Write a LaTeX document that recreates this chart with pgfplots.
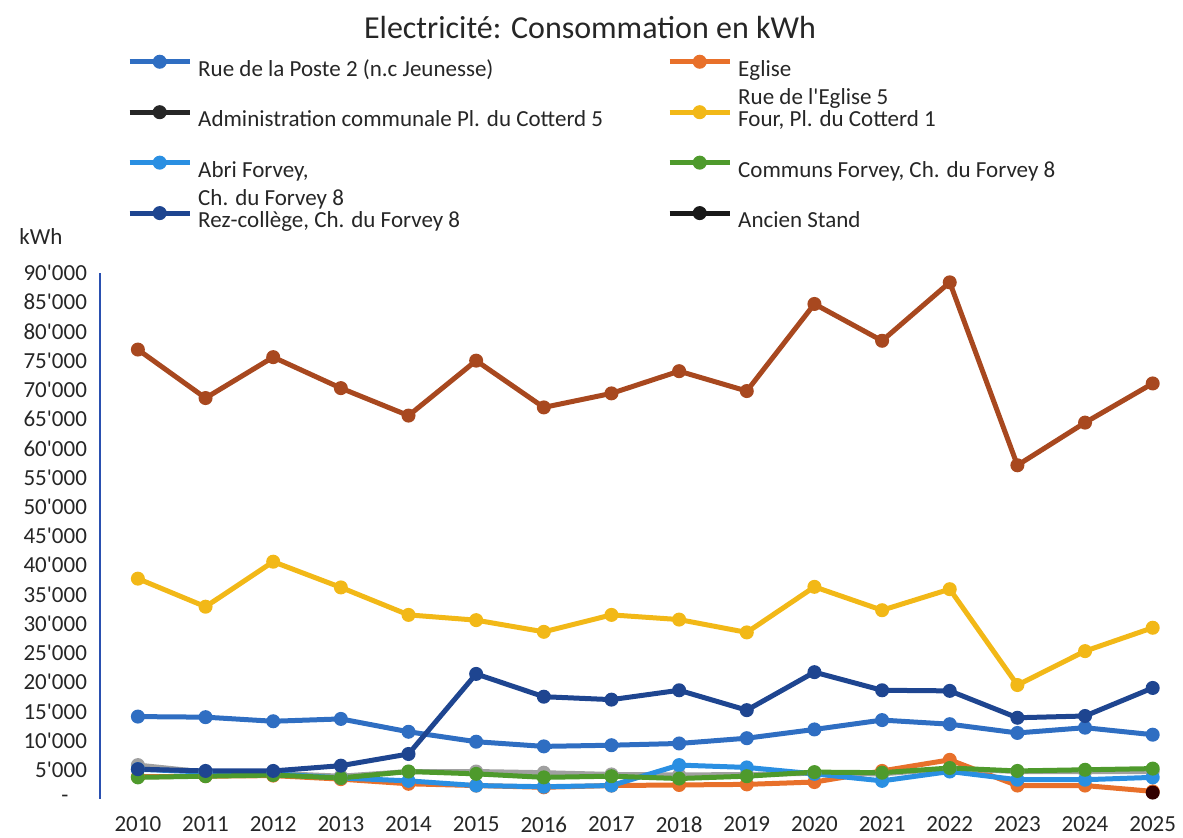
\documentclass[border=0pt]{standalone}
\usepackage{fontspec}
\setmainfont{Carlito}
\usepackage{pgfplots}
\pgfplotsset{compat=1.18}
\definecolor{cRue}{HTML}{2F6EC2}
\definecolor{cEgl}{HTML}{E8702A}
\definecolor{cAdm}{HTML}{A0A0A0}
\definecolor{cFour}{HTML}{F2B817}
\definecolor{cAbri}{HTML}{2A8FE2}
\definecolor{cCom}{HTML}{4E9A2C}
\definecolor{cRez}{HTML}{1E4590}
\definecolor{cAnc}{HTML}{A8481F}
\definecolor{cAxis}{HTML}{2A50B0}
\newcommand{\q}{\textquotesingle}
\newcommand{\legR}[1]{\rule[-8.5pt]{0pt}{25pt}#1}
\newcommand{\legL}[1]{\makebox[231.5pt][l]{\rule[-8.5pt]{0pt}{25pt}#1}}
\newcommand{\two}[2]{\raisebox{0pt}[\height][0pt]{\vtop{\hbox{#1}\hbox{#2}}}}
\begin{document}
\fontsize{11.5}{13.8}\selectfont
\begin{tikzpicture}
\path[use as bounding box] (0,0) rectangle (591.5pt,419pt);
\begin{axis}[
  at={(50pt,19.5pt)}, anchor=south west,
  scale only axis, width=536.5pt, height=263pt,
  xmin=2009.44, xmax=2025.30, ymin=0, ymax=90000,
  scaled y ticks=false, scaled x ticks=false,
  axis lines=left, axis line style={-},
  x axis line style={draw=none},
  y axis line style={draw=cAxis, line width=1pt},
  major tick length=0pt,
  xtick={2010,2011,2012,2013,2014,2015,2016,2017,2018,2019,2020,2021,2022,2023,2024,2025},
  xticklabels={2010,2011,2012,2013,2014,2015,2016,2017,2018,2019,2020,2021,2022,2023,2024,2025},
  ytick={0,5000,10000,15000,20000,25000,30000,35000,40000,45000,50000,55000,60000,65000,70000,75000,80000,85000,90000},
  yticklabels={\makebox[22pt][c]{-},5\q000,10\q000,15\q000,20\q000,25\q000,30\q000,35\q000,40\q000,45\q000,50\q000,55\q000,60\q000,65\q000,70\q000,75\q000,80\q000,85\q000,90\q000},
  xticklabel style={yshift=-5pt, text=black!85},
  yticklabel style={xshift=-2.5pt, text=black!85},
  every axis plot/.append style={line width=2.5pt, mark=*, mark size=3pt, mark options={line width=1pt}},
  legend columns=2,
  legend cell align=left,
  legend style={at={(0.025,1.437)}, anchor=north west, draw=none, fill=none,
    inner sep=0pt, row sep=7pt, column sep=3pt, nodes={inner sep=0pt, text=black!85}},
  legend image code/.code={\draw[mark repeat=2,mark phase=2,#1] plot coordinates {(0pt,0pt) (15pt,0pt) (30pt,0pt)};},
  clip=false,
]
% Rue de la Poste 2
\addplot[color=cRue, forget plot] coordinates {(2010,14100) (2011,14000) (2012,13300) (2013,13700) (2014,11500) (2015,9800) (2016,9000) (2017,9200) (2018,9500) (2019,10400) (2020,11900) (2021,13500) (2022,12800) (2023,11300) (2024,12200) (2025,11000)};
% Eglise
\addplot[color=cEgl, forget plot] coordinates {(2010,3800) (2011,3900) (2012,4000) (2013,3400) (2014,2600) (2015,2300) (2016,2000) (2017,2300) (2018,2400) (2019,2500) (2020,2900) (2021,4800) (2022,6700) (2023,2300) (2024,2300) (2025,1300)};
% Administration communale
\addplot[color=cAdm, forget plot] coordinates {(2010,5800) (2011,4600) (2012,4400) (2013,3900) (2014,4700) (2015,4700) (2016,4500) (2017,4200) (2018,4100) (2019,4200) (2020,4400) (2021,4300) (2022,5200) (2023,4700) (2024,4700) (2025,4700)};
% Four
\addplot[color=cFour, forget plot] coordinates {(2010,37700) (2011,32900) (2012,40600) (2013,36200) (2014,31500) (2015,30600) (2016,28600) (2017,31500) (2018,30700) (2019,28500) (2020,36300) (2021,32300) (2022,35900) (2023,19500) (2024,25300) (2025,29300)};
% Abri Forvey
\addplot[color=cAbri, forget plot] coordinates {(2010,5100) (2011,4600) (2012,4300) (2013,3600) (2014,3100) (2015,2300) (2016,2100) (2017,2300) (2018,5800) (2019,5400) (2020,4300) (2021,3100) (2022,4700) (2023,3300) (2024,3300) (2025,3700)};
% Communs Forvey
\addplot[color=cCom, forget plot] coordinates {(2010,3700) (2011,3900) (2012,4100) (2013,3600) (2014,4700) (2015,4300) (2016,3700) (2017,3900) (2018,3500) (2019,3900) (2020,4600) (2021,4500) (2022,5300) (2023,4800) (2024,5000) (2025,5200)};
% Rez-college
\addplot[color=cRez, forget plot] coordinates {(2010,5100) (2011,4800) (2012,4800) (2013,5700) (2014,7700) (2015,21400) (2016,17500) (2017,17000) (2018,18600) (2019,15200) (2020,21700) (2021,18600) (2022,18500) (2023,13900) (2024,14200) (2025,19000)};
% Ancien Stand
\addplot[color=cAnc, forget plot] coordinates {(2010,76900) (2011,68600) (2012,75600) (2013,70300) (2014,65600) (2015,75000) (2016,67000) (2017,69400) (2018,73200) (2019,69800) (2020,84700) (2021,78400) (2022,88400) (2023,57100) (2024,64400) (2025,71100)};
% isolated dark point
\addplot[color=black!80!red, forget plot] coordinates {(2025,1100)};

\addlegendimage{line width=2.5pt, mark=*, mark size=3pt, mark options={line width=1pt}, color=cRue}
\addlegendentry{\legL{Rue de la Poste 2 (n.c Jeunesse)}}
\addlegendimage{line width=2.5pt, mark=*, mark size=3pt, mark options={line width=1pt}, color=cEgl}
\addlegendentry{\legR{\two{Eglise}{Rue de l\q Eglise 5}}}
\addlegendimage{line width=2.5pt, mark=*, mark size=3pt, mark options={line width=1pt}, color=black!85}
\addlegendentry{\legL{Administration communale Pl. du Cotterd 5}}
\addlegendimage{line width=2.5pt, mark=*, mark size=3pt, mark options={line width=1pt}, color=cFour}
\addlegendentry{\legR{Four, Pl. du Cotterd 1}}
\addlegendimage{line width=2.5pt, mark=*, mark size=3pt, mark options={line width=1pt}, color=cAbri}
\addlegendentry{\legL{\two{Abri Forvey,}{Ch. du Forvey 8}}}
\addlegendimage{line width=2.5pt, mark=*, mark size=3pt, mark options={line width=1pt}, color=cCom}
\addlegendentry{\legR{Communs Forvey, Ch. du Forvey 8}}
\addlegendimage{line width=2.5pt, mark=*, mark size=3pt, mark options={line width=1pt}, color=cRez}
\addlegendentry{\legL{Rez-collège, Ch. du Forvey 8}}
\addlegendimage{line width=2.5pt, mark=*, mark size=3pt, mark options={line width=1pt}, color=black!90}
\addlegendentry{\legR{Ancien Stand}}
\end{axis}
\node[font=\fontsize{16}{19}\selectfont, text=black!85] at (295pt,405pt) {Electricité: Consommation en kWh};
\node[text=black!85] at (20.5pt,300.5pt) {kWh};
\end{tikzpicture}
\end{document}
